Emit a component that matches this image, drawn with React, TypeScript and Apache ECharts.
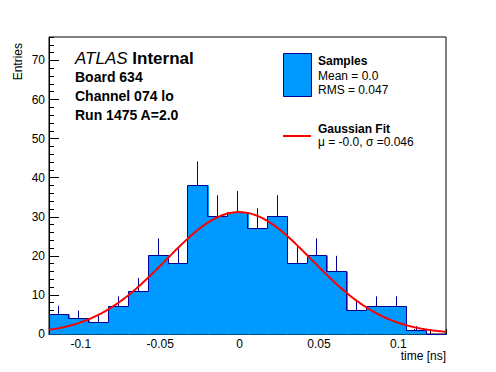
import React, { useEffect, useRef } from "react";
import * as echarts from "echarts";

// ---- data ----
const binStart = -0.12;
const binWidth = 0.0125;
const counts = [5, 4, 3, 7, 11, 20, 18, 38, 30, 31, 27, 30, 18, 20, 16, 6, 7, 7, 1, 0];
const xMajorTicks = [-0.1, -0.05, 0, 0.05, 0.1];
const xMinorTicks = [-0.12, -0.11, -0.09, -0.08, -0.07, -0.06, -0.04, -0.03, -0.02, -0.01, 0.01, 0.02, 0.03, 0.04, 0.06, 0.07, 0.08, 0.09, 0.11, 0.12, 0.13];
const yMajorTicks = [0, 10, 20, 30, 40, 50, 60, 70];
const yMinorTicks = [2, 4, 6, 8, 12, 14, 16, 18, 22, 24, 26, 28, 32, 34, 36, 38, 42, 44, 46, 48, 52, 54, 56, 58, 62, 64, 66, 68, 72, 74, 76];
const xMin = -0.12;
const xMax = 0.13;
const yMin = 0;
const yMax = 76;
// Gaussian fit parameters (from legend / picture)
const fitMean = -0.0004;
const fitSigma = 0.046;
const fitAmplitude = 31.2;

const FILL = "#0099ff";
const NAVY = "#000099";
const FONT = "'Liberation Sans', Arial, Helvetica, sans-serif";

const histData = counts.map((c, i) => [
  binStart + i * binWidth,
  binStart + (i + 1) * binWidth,
  c,
  i === 0 ? 0 : counts[i - 1],
]);

const fitData: number[][] = [];
for (let k = 0; k <= 250; k++) {
  const x = xMin + ((xMax - xMin) * k) / 250;
  const d = (x - fitMean) / fitSigma;
  fitData.push([x, fitAmplitude * Math.exp(-0.5 * d * d)]);
}

const snap = (v: number) => Math.round(v - 0.5) + 0.5;

export default function App() {
  const ref = useRef<HTMLDivElement>(null);
  useEffect(() => {
    if (!ref.current) return;
    const chart = echarts.init(ref.current, undefined, { renderer: "svg" });
    const labelStyle = { color: "#000", fontSize: 12, fontFamily: FONT };
    chart.setOption({
      animation: false,
      backgroundColor: "#fff",
      grid: {
        left: 49,
        top: 37,
        width: 397,
        height: 297,
        show: true,
        borderColor: "#000",
        borderWidth: 1,
        backgroundColor: "transparent",
        containLabel: false,
      },
      xAxis: [
        {
          type: "value",
          min: xMin,
          max: xMax,
          position: "bottom",
          axisLine: { show: true, onZero: false, lineStyle: { color: "#000", width: 1 } },
          axisTick: { show: true, inside: true, length: 9, customValues: xMajorTicks, lineStyle: { color: "#000" } },
          axisLabel: {
            show: true,
            customValues: xMajorTicks,
            margin: 4,
            ...labelStyle,
            formatter: (v: number) => String(v),
          },
          splitLine: { show: false },
        },
        {
          type: "value",
          min: xMin,
          max: xMax,
          position: "bottom",
          axisLine: { show: false, onZero: false },
          axisTick: { show: true, inside: true, length: 5, customValues: xMinorTicks, lineStyle: { color: "#000" } },
          axisLabel: { show: false },
          splitLine: { show: false },
        },
      ],
      yAxis: [
        {
          type: "value",
          min: yMin,
          max: yMax,
          position: "left",
          axisLine: { show: true, onZero: false, lineStyle: { color: "#000", width: 1 } },
          axisTick: { show: true, inside: true, length: 10, customValues: yMajorTicks, lineStyle: { color: "#000" } },
          axisLabel: { show: true, customValues: yMajorTicks, margin: 4, ...labelStyle },
          splitLine: { show: false },
        },
        {
          type: "value",
          min: yMin,
          max: yMax,
          position: "left",
          axisLine: { show: false, onZero: false },
          axisTick: { show: true, inside: true, length: 5, customValues: yMinorTicks, lineStyle: { color: "#000" } },
          axisLabel: { show: false },
          splitLine: { show: false },
        },
      ],
      series: [
        {
          type: "custom",
          xAxisIndex: 0,
          yAxisIndex: 0,
          dimensions: ["lo", "hi", "count", "prev"],
          encode: { x: [0, 1], y: 2 },
          data: histData,
          z: 2,
          renderItem: (params: any, api: any) => {
            const lo = api.value(0);
            const hi = api.value(1);
            const v = api.value(2);
            const prev = api.value(3);
            const p0 = api.coord([lo, 0]);
            const p1 = api.coord([hi, v]);
            const pp = api.coord([lo, prev]);
            const x0 = snap(p0[0]);
            const x1 = snap(p1[0]);
            const yb = snap(p0[1]);
            const yt = snap(p1[1]);
            const yp = snap(pp[1]);
            const children: any[] = [];
            if (v > 0) {
              const rx0 = Math.round(p0[0]);
              const rx1 = Math.round(p1[0]) + 1;
              children.push({
                type: "rect",
                shape: { x: rx0, y: yt, width: rx1 - rx0, height: yb - yt },
                style: { fill: FILL },
              });
              const c = (lo + hi) / 2;
              const e1 = api.coord([c, v]);
              const e2 = api.coord([c, v + Math.sqrt(v)]);
              const xc = snap(e1[0]);
              children.push({
                type: "line",
                shape: { x1: xc, y1: yt, x2: xc, y2: e2[1] },
                style: { stroke: NAVY, lineWidth: 1 },
              });
            }
            children.push({
              type: "line",
              shape: { x1: x0, y1: yt, x2: x1, y2: yt },
              style: { stroke: NAVY, lineWidth: 1 },
            });
            children.push({
              type: "line",
              shape: { x1: x0, y1: yp, x2: x0, y2: yt },
              style: { stroke: NAVY, lineWidth: 1 },
            });
            return { type: "group", children };
          },
        },
        {
          type: "line",
          name: "Gaussian Fit",
          xAxisIndex: 0,
          yAxisIndex: 0,
          data: fitData,
          showSymbol: false,
          symbol: "none",
          z: 5,
          lineStyle: { color: "#ff0000", width: 2 },
        },
      ],
      graphic: [
        {
          type: "text",
          x: 18,
          y: 43,
          rotation: Math.PI / 2,
          style: { text: "Entries", align: "right", verticalAlign: "middle", fill: "#000", font: `12px ${FONT}` },
        },
        {
          type: "text",
          x: 446,
          y: 356,
          style: { text: "time [ns]", align: "right", verticalAlign: "middle", fill: "#000", font: `12px ${FONT}` },
        },
        {
          type: "text",
          x: 75,
          y: 58,
          style: {
            text: "{a|ATLAS} {b|Internal}",
            verticalAlign: "middle",
            rich: {
              a: { fontStyle: "italic", fontSize: 17, fontFamily: FONT, fill: "#000", color: "#000" },
              b: { fontWeight: "bold", fontSize: 17, fontFamily: FONT, fill: "#000", color: "#000" },
            },
            font: `17px ${FONT}`,
          },
        },
        {
          type: "text",
          x: 75,
          y: 77,
          style: { text: "Board 634", verticalAlign: "middle", fill: "#000", font: `bold 14px ${FONT}` },
        },
        {
          type: "text",
          x: 75,
          y: 96,
          style: { text: "Channel 074 lo", verticalAlign: "middle", fill: "#000", font: `bold 14px ${FONT}` },
        },
        {
          type: "text",
          x: 75,
          y: 115,
          style: { text: "Run 1475 A=2.0", verticalAlign: "middle", fill: "#000", font: `bold 14px ${FONT}` },
        },
        {
          type: "rect",
          shape: { x: 283.5, y: 53.5, width: 28, height: 43 },
          style: { fill: FILL, stroke: NAVY, lineWidth: 1 },
        },
        {
          type: "text",
          x: 318,
          y: 61,
          style: { text: "Samples", verticalAlign: "middle", fill: "#000", font: `bold 12px ${FONT}` },
        },
        {
          type: "text",
          x: 318,
          y: 76,
          style: { text: "Mean = 0.0", verticalAlign: "middle", fill: "#000", font: `12px ${FONT}` },
        },
        {
          type: "text",
          x: 318,
          y: 90,
          style: { text: "RMS = 0.047", verticalAlign: "middle", fill: "#000", font: `12px ${FONT}` },
        },
        {
          type: "line",
          shape: { x1: 283, y1: 136, x2: 311, y2: 136 },
          style: { stroke: "#ff0000", lineWidth: 2 },
        },
        {
          type: "text",
          x: 318,
          y: 129,
          style: { text: "Gaussian Fit", verticalAlign: "middle", fill: "#000", font: `bold 12px ${FONT}` },
        },
        {
          type: "text",
          x: 318,
          y: 142,
          style: { text: "μ = -0.0, σ =0.046", verticalAlign: "middle", fill: "#000", font: `12px ${FONT}` },
        },
      ],
    });
    return () => chart.dispose();
  }, []);
  return (
    <div
      ref={ref}
      style={{ position: "absolute", left: 0, top: 0, width: 496, height: 372, background: "#fff" }}
    />
  );
}
